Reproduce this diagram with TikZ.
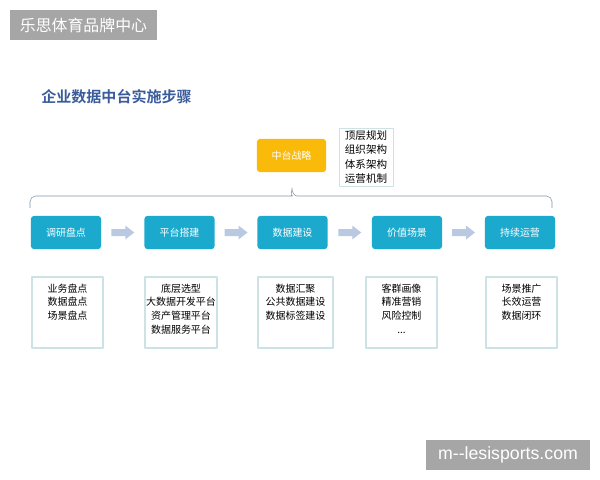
\documentclass[tikz,border=0pt]{standalone}
\usepackage{fontspec}
\setmainfont{Noto Sans CJK SC}[BoldFont={Noto Sans CJK SC Bold}]
\newfontfamily\sitefont{Liberation Sans}
\usepackage{tikz}
\usetikzlibrary{calc,positioning}
\definecolor{stepblue}{RGB}{27,170,206}
\definecolor{stratorange}{RGB}{250,186,10}
\definecolor{arrowgray}{RGB}{186,201,226}
\definecolor{titleblue}{RGB}{58,92,156}
\definecolor{boxline}{RGB}{204,226,228}
\definecolor{braceline}{RGB}{128,150,170}
\definecolor{markgray}{RGB}{166,166,166}

\begin{document}
\begin{tikzpicture}[x=0.025cm,y=-0.025cm,line join=round,
  stepbox/.style={fill=stepblue,rounded corners=2pt,inner sep=0pt,
    minimum width=1.75cm,minimum height=0.825cm,text=white,
    font=\fontsize{7.1}{8}\selectfont},
  detailbox/.style={draw=boxline,thick,inner sep=0pt,minimum height=1.775cm},
  detailtext/.style={align=center,inner sep=0pt,
    font=\fontsize{7.1}{9.8}\selectfont},
  markbox/.style={fill=markgray,text=white,inner sep=0pt,minimum height=0.75cm}]
  \useasboundingbox (0,0) rectangle (600,480);
  % watermarks
  \node[markbox,minimum width=3.675cm,font=\fontsize{11.3}{12}\selectfont]
    (logo) at (83.5,25) {乐思体育品牌中心};
  \node[markbox,minimum width=4.1cm,font=\sitefont\fontsize{12.6}{13}\selectfont]
    (site) at (508,455) {m-{}-lesisports.com};
  % title
  \node[anchor=west,inner sep=0pt,text=titleblue,font=\bfseries\fontsize{10.7}{12}\selectfont]
    (title) at (41,97) {企业数据中台实施步骤};
  % strategy on top, with its note
  \node[fill=stratorange,rounded corners=2pt,inner sep=0pt,minimum width=1.725cm,
    minimum height=0.825cm,text=white,font=\fontsize{7.1}{8}\selectfont]
    (strat) at (291.5,155.5) {中台战略};
  \node[draw=boxline,inner sep=0pt,minimum width=1.35cm,minimum height=1.45cm,
    align=center,font=\fontsize{7.5}{10}\selectfont]
    (note) at (366,157) {顶层规划\\组织架构\\体系架构\\运营机制};
  % brace spanning all steps
  \draw[braceline] (30,208) [rounded corners=4pt] |- (287,196) [sharp corners]
    .. controls (290,196) and (292,192) .. (292,188)
    .. controls (292,192) and (294,196) .. (297,196)
    [rounded corners=4pt] -| (552,208);
  % steps and their details
  \foreach \i/\x/\dx/\dw/\name/\items in {
      1/66/67.5/1.775/调研盘点/{业务盘点\\数据盘点\\场景盘点},
      2/179.5/181/1.8/平台搭建/{底层选型\\大数据开发平台\\资产管理平台\\数据服务平台},
      3/292.5/295.5/1.875/数据建设/{数据汇聚\\公共数据建设\\数据标签建设},
      4/407/401.5/1.775/价值场景/{客群画像\\精准营销\\风险控制\\...},
      5/520/521.5/1.775/持续运营/{场景推广\\长效运营\\数据闭环}}{
    \node[stepbox] (s\i) at (\x,232.5) {\name};
    \node[detailbox,minimum width=\dw cm] (d\i) at (\dx,312.5) {};
    \node[detailtext,anchor=north] (t\i) at ($(d\i.north)+(0,7)$) {\items};
  }
  % block arrows between the steps
  \foreach \i/\j in {1/2,2/3,3/4,4/5}{
    \coordinate (m\i) at ($(s\i.east)!0.5!(s\j.west)$);
    \fill[arrowgray] ($(m\i)+(-11.5,-3.5)$) -- ($(m\i)+(2.5,-3.5)$)
      -- ($(m\i)+(2.5,-7)$) -- ($(m\i)+(11.5,0)$) -- ($(m\i)+(2.5,7)$)
      -- ($(m\i)+(2.5,3.5)$) -- ($(m\i)+(-11.5,3.5)$) -- cycle;
  }
\end{tikzpicture}
\end{document}
